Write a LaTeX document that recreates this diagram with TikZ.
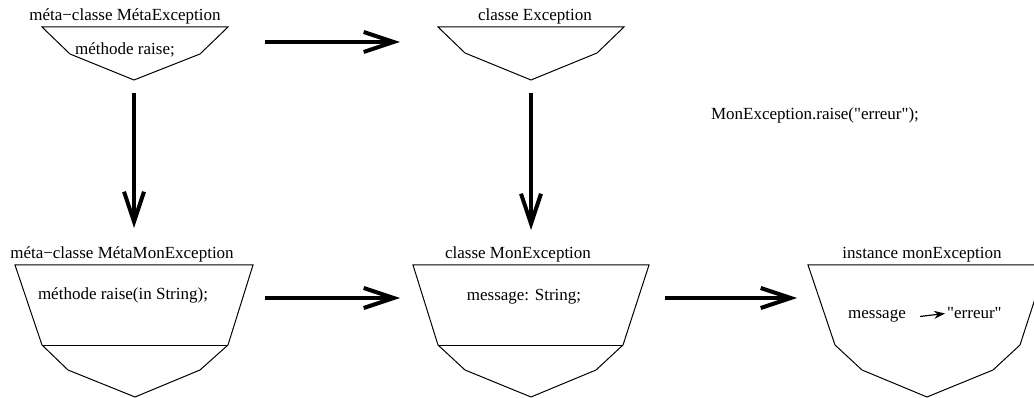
\documentclass[tikz,border=0pt]{standalone}
\usepackage{fontspec}
\setmainfont{Liberation Serif}[Ligatures=TeXOff]
\usetikzlibrary{arrows.meta}
\tikzset{
  shp/.style={line width=1pt, line join=miter},
  lbl/.style={anchor=base, inner sep=0pt, font=\fontsize{17}{20}\selectfont},
  txt/.style={anchor=base, inner sep=0pt, font=\fontsize{17}{20}\selectfont},
  bigarrow/.style={line width=4pt, -{Straight Barb[length=30pt,width=20pt]}},
  smallarrow/.style={line width=1.2pt, -{Stealth[length=11pt,width=8pt]}}
}
\begin{document}
\begin{tikzpicture}[x=1pt,y=-1pt]
\useasboundingbox (0,0) rectangle (1034,398);
\clip (0,0) rectangle (1034,398);
% top-left shape
\draw[shp] (42,27) -- (228,27) -- (200,54) -- (134,80) -- (70,54) -- cycle;
\node[lbl] (lmeta) at (125,21) {méta−classe MétaException};
\node[txt] (tmeta) at (125,55) {méthode raise;};
\coordinate (metaB) at (134,93);
\coordinate (metaR) at (265,42);
% top-middle shape
\draw[shp] (438,27) -- (624,27) -- (597,53) -- (531,80) -- (465,53) -- cycle;
\node[lbl] (lexc) at (535,21) {classe Exception};
\coordinate (excL) at (400,42);
\coordinate (excT) at (531,93);
% text
\node[txt] (call) at (815,120) {MonException.raise("erreur");};
% bottom-left shape
\draw[shp] (15,265) -- (253,265) -- (228,345) -- (200,370) -- (135,397) -- (68,370) -- (42,345) -- cycle;
\draw[shp] (42,345) -- (228,345);
\node[lbl] (lmmeta) at (122,259) {méta−classe MétaMonException};
\node[txt] (tmmeta) at (123,300) {méthode raise(in String);};
\coordinate (mmetaT) at (134,228);
\coordinate (mmetaR) at (265,298);
% bottom-middle shape
\draw[shp] (413,265) -- (649,265) -- (623,345) -- (596,370) -- (531,397) -- (465,370) -- (438,345) -- cycle;
\draw[shp] (438,345) -- (623,345);
\node[lbl] (lmon) at (518,259) {classe MonException};
\node[txt] (tmon) at (524,301) {message: String;};
\coordinate (monT) at (531,230);
\coordinate (monL) at (400,298);
\coordinate (monR) at (665,298);
% bottom-right shape
\draw[shp] (808,265) -- (1046,265) -- (1020,345) -- (993,370) -- (927,397) -- (862,370) -- (835,345) -- cycle;
\node[lbl] (linst) at (922,259) {instance monException};
\node[txt, anchor=base west] (msg) at (848,318) {message};
\node[txt, anchor=base west] (err) at (947,318) {"erreur"};
\coordinate (instL) at (797,298);
% arrows
\draw[bigarrow] (metaR) -- (excL);
\draw[bigarrow] (metaB) -- (mmetaT);
\draw[bigarrow] (excT) -- (monT);
\draw[bigarrow] (mmetaR) -- (monL);
\draw[bigarrow] (monR) -- (instL);
\draw[smallarrow] ([xshift=14pt,yshift=-1pt]msg.east) -- ([xshift=-2pt,yshift=-1pt]err.west);
\end{tikzpicture}
\end{document}
